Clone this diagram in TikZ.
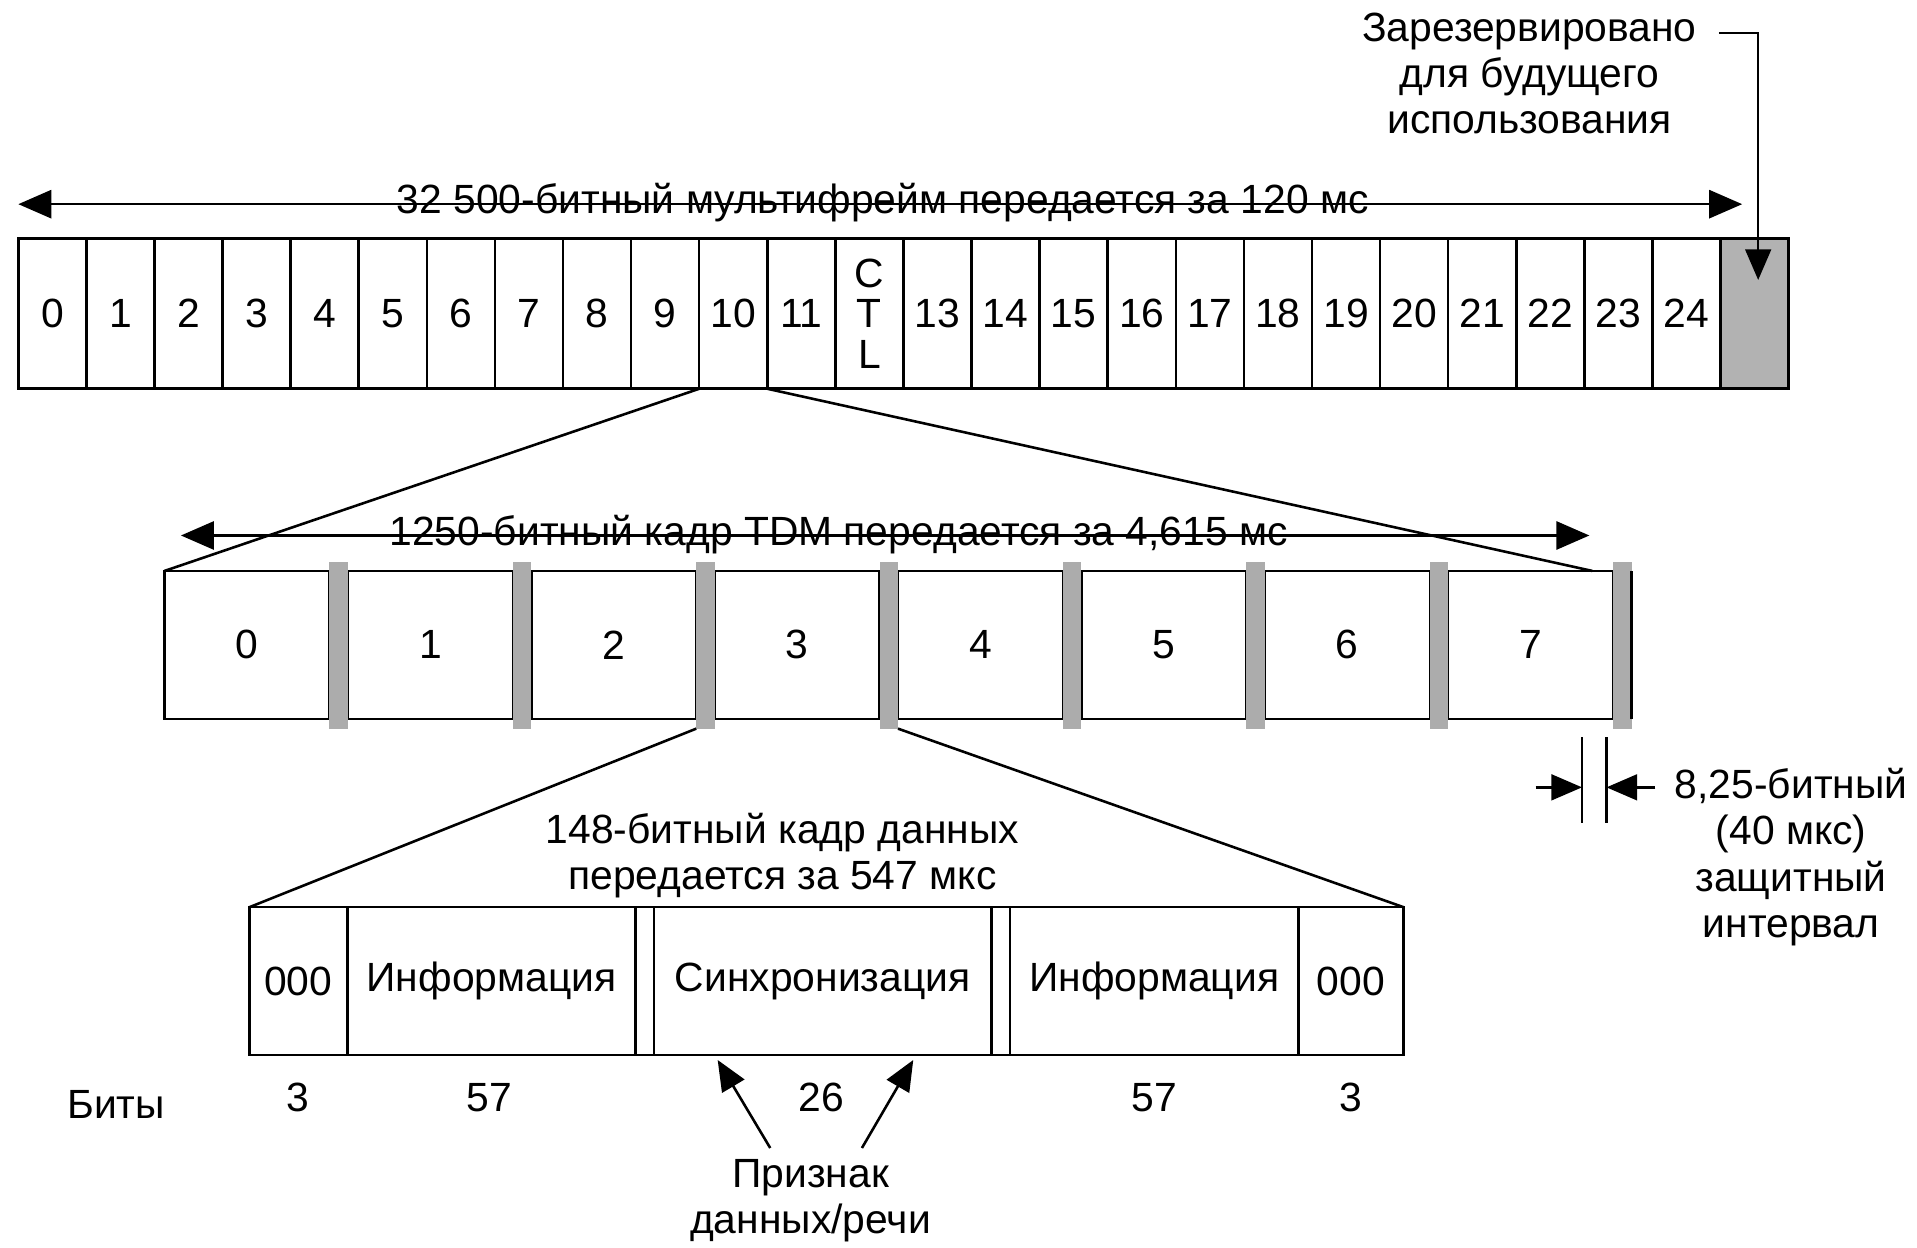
\documentclass[tikz,border=0pt]{standalone}
\usepackage{fontspec}
\setmainfont{Liberation Sans}
\usetikzlibrary{arrows.meta,calc}
\definecolor{rsv}{RGB}{178,178,178}
\definecolor{guard}{RGB}{172,172,172}
\begin{document}
\begin{tikzpicture}[x=0.02cm,y=-0.02cm,
  every node/.style={font=\fontsize{19}{21.5}\selectfont, inner sep=0pt, outer sep=0pt},
  tcell/.style={draw, line width=1.2pt, minimum width=1.1138cm, minimum height=2.46cm},
  mcell/.style={draw, line width=1.2pt, minimum width=2.7cm, minimum height=2.42cm},
  gbar/.style={fill=guard, minimum width=0.3cm, minimum height=2.72cm},
  bcell/.style={draw, line width=1.2pt, minimum height=2.42cm},
  lbl/.style={align=center},
  conn/.style={line width=1.2pt},
  dbl/.style={line width=1.2pt, {Triangle[length=0.54cm,width=0.46cm]}-{Triangle[length=0.54cm,width=0.46cm]}},
  sarr/.style={line width=1.2pt, -{Triangle[length=0.5cm,width=0.42cm]}},
]
\useasboundingbox (0,0) rectangle (1568,1020);

% ---------- top multiframe ----------
\foreach \i in {0,...,11}
  \node[tcell] (t\i) at ({15+55.69*(\i+0.5)},256.5) {\i};
\node[tcell, lbl] (t12) at ({15+55.69*12.5},256.5) {C\\[-2.5pt]T\\[-2.5pt]L};
\foreach \i in {13,...,24}
  \node[tcell] (t\i) at ({15+55.69*(\i+0.5)},256.5) {\i};
\node[tcell, fill=rsv] (t25) at ({15+55.69*25.5},256.5) {};

\coordinate (ta) at (15,167);
\coordinate (tb) at (1425,167);
\draw[dbl] (ta) -- (tb);
\node (toptxt) at (722,166) {32 500-битный мультифрейм передается за 120 мс};

\node[lbl] (rsvtxt) at (1251,60) {Зарезервировано\\для будущего\\использования};
\coordinate (rsvs) at (1406,27);
\coordinate (rsve) at ($(t25.north)+(3,34)$);
\draw[sarr] (rsvs) -| (rsve);

% ---------- middle TDM frame ----------
\foreach \k in {0,...,7}
  \node[mcell] (m\k) at ({202+150*\k},527.5) {\k};
\foreach \k in {0,...,7}
  \node[gbar] (g\k) at ({277+150*\k},528) {};
\draw[line width=1.2pt] (g7.east |- m7.north) -- (g7.east |- m7.south);

\coordinate (ma) at (148,438);
\coordinate (mb) at (1300,438);
\draw[dbl] (ma) -- (mb);
\node (midtxt) at (686,437) {1250-битный кадр TDM передается за 4,615 мс};

\draw[conn] (t10.south west) -- (m0.north west);
\draw[conn] (t10.south east) -- ($(m7.north east)+(-17,0)$);

% guard interval
\coordinate (gl1) at (1294,603);
\coordinate (gl2) at (1294,673);
\coordinate (gr1) at (1314,603);
\coordinate (gr2) at (1314,673);
\draw[line width=1pt] (gl1) -- (gl2);
\draw[line width=1pt] (gr1) -- (gr2);
\coordinate (gat) at (1256,644);
\coordinate (gah) at (1294,644);
\coordinate (gbt) at (1354,644);
\coordinate (gbh) at (1314,644);
\draw[sarr] (gat) -- (gah);
\draw[sarr] (gbt) -- (gbh);
\node[lbl] (guardtxt) at (1465,701) {8,25-битный\\(40 мкс)\\защитный\\интервал};

% ---------- bottom data frame ----------
\node[bcell, minimum width=1.6cm] (b1) at (244,802.5) {000};
\node[bcell, minimum width=4.72cm] (b2) at (402,802.5) {Информация};
\node[bcell, minimum width=0.3cm] (b3) at (527.5,802.5) {};
\node[bcell, minimum width=5.52cm] (b4) at (673,802.5) {Синхронизация};
\node[bcell, minimum width=0.3cm] (b5) at (818.5,802.5) {};
\node[bcell, minimum width=4.72cm] (b6) at (944,802.5) {Информация};
\node[bcell, minimum width=1.72cm] (b7) at (1105,802.5) {000};

\node[lbl] (frtxt) at (640,700) {148-битный кадр данных\\передается за 547 мкс};

\draw[conn] (g2.south west) -- (b1.north west);
\draw[conn] (g3.south east) -- (b7.north east);

\node (bits) at (95,903) {Биты};
\node (n1) at (244,898) {3};
\node (n2) at (400,898) {57};
\node (n3) at (672,898) {26};
\node (n4) at (944,898) {57};
\node (n5) at (1105,898) {3};

\node[lbl] (prz) at (663,982) {Признак\\данных/речи};
\coordinate (pa) at (630,939);
\coordinate (pb) at (705,939);
\coordinate (pah) at (587,867);
\coordinate (pbh) at (747,867);
\draw[sarr] (pa) -- (pah);
\draw[sarr] (pb) -- (pbh);
\end{tikzpicture}
\end{document}
